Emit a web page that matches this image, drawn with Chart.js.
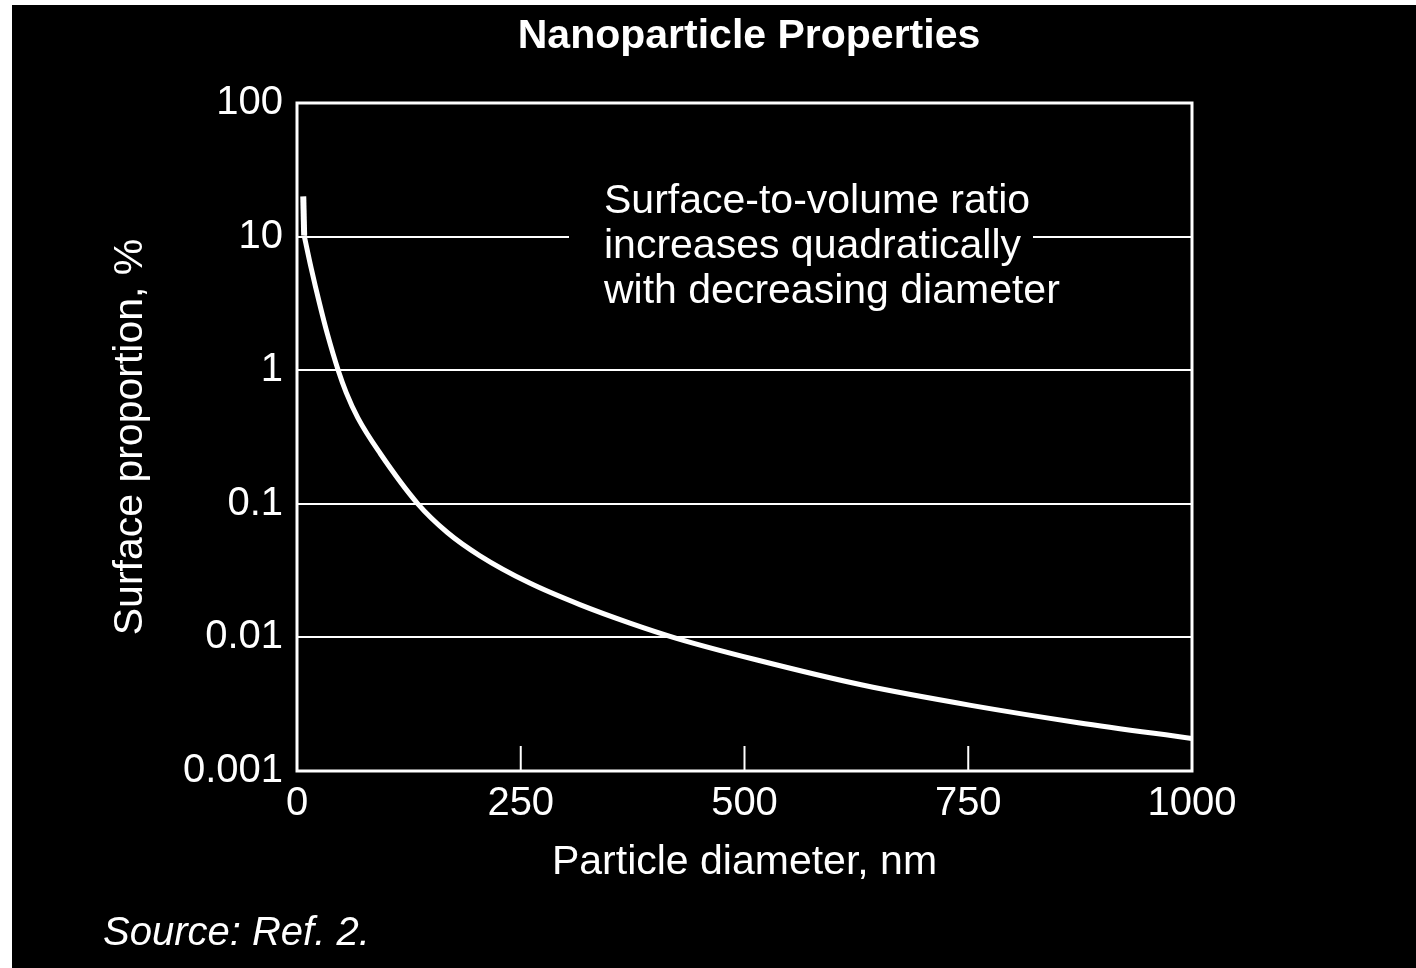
<!DOCTYPE html>
<html>
<head>
<meta charset="utf-8">
<script src="https://cdn.jsdelivr.net/npm/chart.js@4"></script>
<style>
  html, body { margin: 0; padding: 0; background: #fff; overflow: hidden; }
  #wrap { position: absolute; left: 12px; top: 5px; width: 1404px; height: 963px; background: #000; }
</style>
</head>
<body>
<div id="wrap"><canvas id="nano"></canvas></div>
<script>
// particle diameter (nm) and surface proportion (%)
const diameters = [8, 16, 25, 34, 46, 55, 68, 93, 135, 168, 204, 260, 316, 372, 425, 513, 633, 753, 873, 1000];
const surfacePct = [10.2, 5.74, 3.19, 1.86, 1.0, 0.68, 0.44, 0.238, 0.1, 0.061, 0.041, 0.0255, 0.0176, 0.0128, 0.0098, 0.0068, 0.00438, 0.0031, 0.0023, 0.00175];
// the steep start of the curve, drawn straight
const tipDiameters = [7, 8];
const tipPct = [20, 10.2];

const yTickValues = [100, 10, 1, 0.1, 0.01, 0.001];
const yTickLabels = ['100', '10', '1', '0.1', '0.01', '0.001'];
const xTickMarks = [250, 500, 750];

const noteLines = ['Surface-to-volume ratio', 'increases quadratically', 'with decreasing diameter'];

const FONT = "'Liberation Sans', Arial, Helvetica, sans-serif";

const decor = {
    id: 'decor',
    afterDraw(chart) {
        const ctx = chart.ctx;
        const a = chart.chartArea;
        const x = chart.scales.x;
        ctx.save();
        ctx.strokeStyle = '#fff';

        // inward tick marks on the diameter axis
        ctx.lineWidth = 2;
        xTickMarks.forEach(v => {
            const px = x.getPixelForValue(v);
            ctx.beginPath();
            ctx.moveTo(px, a.bottom);
            ctx.lineTo(px, a.bottom - 25);
            ctx.stroke();
        });

        // frame
        ctx.lineWidth = 3;
        ctx.strokeRect(a.left, a.top, a.right - a.left, a.bottom - a.top);

        // note, blanking the grid line behind it
        ctx.fillStyle = '#000';
        ctx.fillRect(557, 170, 464, 140);
        ctx.fillStyle = '#fff';
        ctx.font = '41px ' + FONT;
        ctx.textAlign = 'left';
        ctx.textBaseline = 'alphabetic';
        noteLines.forEach((t, i) => ctx.fillText(t, 592, 208 + i * 45));

        // title
        ctx.font = 'bold 41px ' + FONT;
        ctx.textAlign = 'center';
        ctx.fillText('Nanoparticle Properties', 737, 43);

        // source
        ctx.font = 'italic 40px ' + FONT;
        ctx.textAlign = 'left';
        ctx.fillText('Source: Ref. 2.', 91, 940);
        ctx.restore();
    }
};

new Chart(document.getElementById('nano'), {
    type: 'line',
    data: {
        datasets: [{
            data: diameters.map((d, i) => ({ x: d, y: surfacePct[i] })),
            borderColor: '#fff',
            borderWidth: 5,
            pointRadius: 0,
            cubicInterpolationMode: 'monotone',
            fill: false
        }, {
            data: tipDiameters.map((d, i) => ({ x: d, y: tipPct[i] })),
            borderColor: '#fff',
            borderWidth: 6,
            pointRadius: 0,
            tension: 0,
            fill: false
        }]
    },
    options: {
        responsive: true,
        maintainAspectRatio: false,
        animation: false,
        layout: { padding: { left: 0, top: 98, right: 224, bottom: 77 } },
        scales: {
            x: {
                type: 'linear',
                min: 0,
                max: 1000,
                afterFit: s => { s.height = 120; },
                ticks: {
                    stepSize: 250,
                    color: '#fff',
                    padding: 9,
                    maxRotation: 0,
                    font: { family: FONT, size: 40 },
                    callback: v => String(v)
                },
                grid: { display: false, drawTicks: false },
                border: { display: false },
                title: {
                    display: true,
                    text: 'Particle diameter, nm',
                    color: '#fff',
                    padding: { top: 0, bottom: 4 },
                    font: { family: FONT, size: 41 }
                }
            },
            y: {
                type: 'logarithmic',
                min: 0.001,
                max: 100,
                afterFit: s => { s.width = 285; },
                afterBuildTicks: s => { s.ticks = yTickValues.map(v => ({ value: v })); },
                ticks: {
                    color: '#fff',
                    padding: 14,
                    font: { family: FONT, size: 40 },
                    callback: v => yTickLabels[yTickValues.indexOf(v)]
                },
                grid: { color: '#fff', lineWidth: 2, drawTicks: false },
                border: { display: false },
                title: {
                    display: true,
                    text: 'Surface proportion, %',
                    color: '#fff',
                    padding: { top: 94, bottom: 0 },
                    font: { family: FONT, size: 41 }
                }
            }
        },
        plugins: {
            legend: { display: false },
            tooltip: { enabled: false }
        }
    },
    plugins: [decor]
});
</script>
</body>
</html>
